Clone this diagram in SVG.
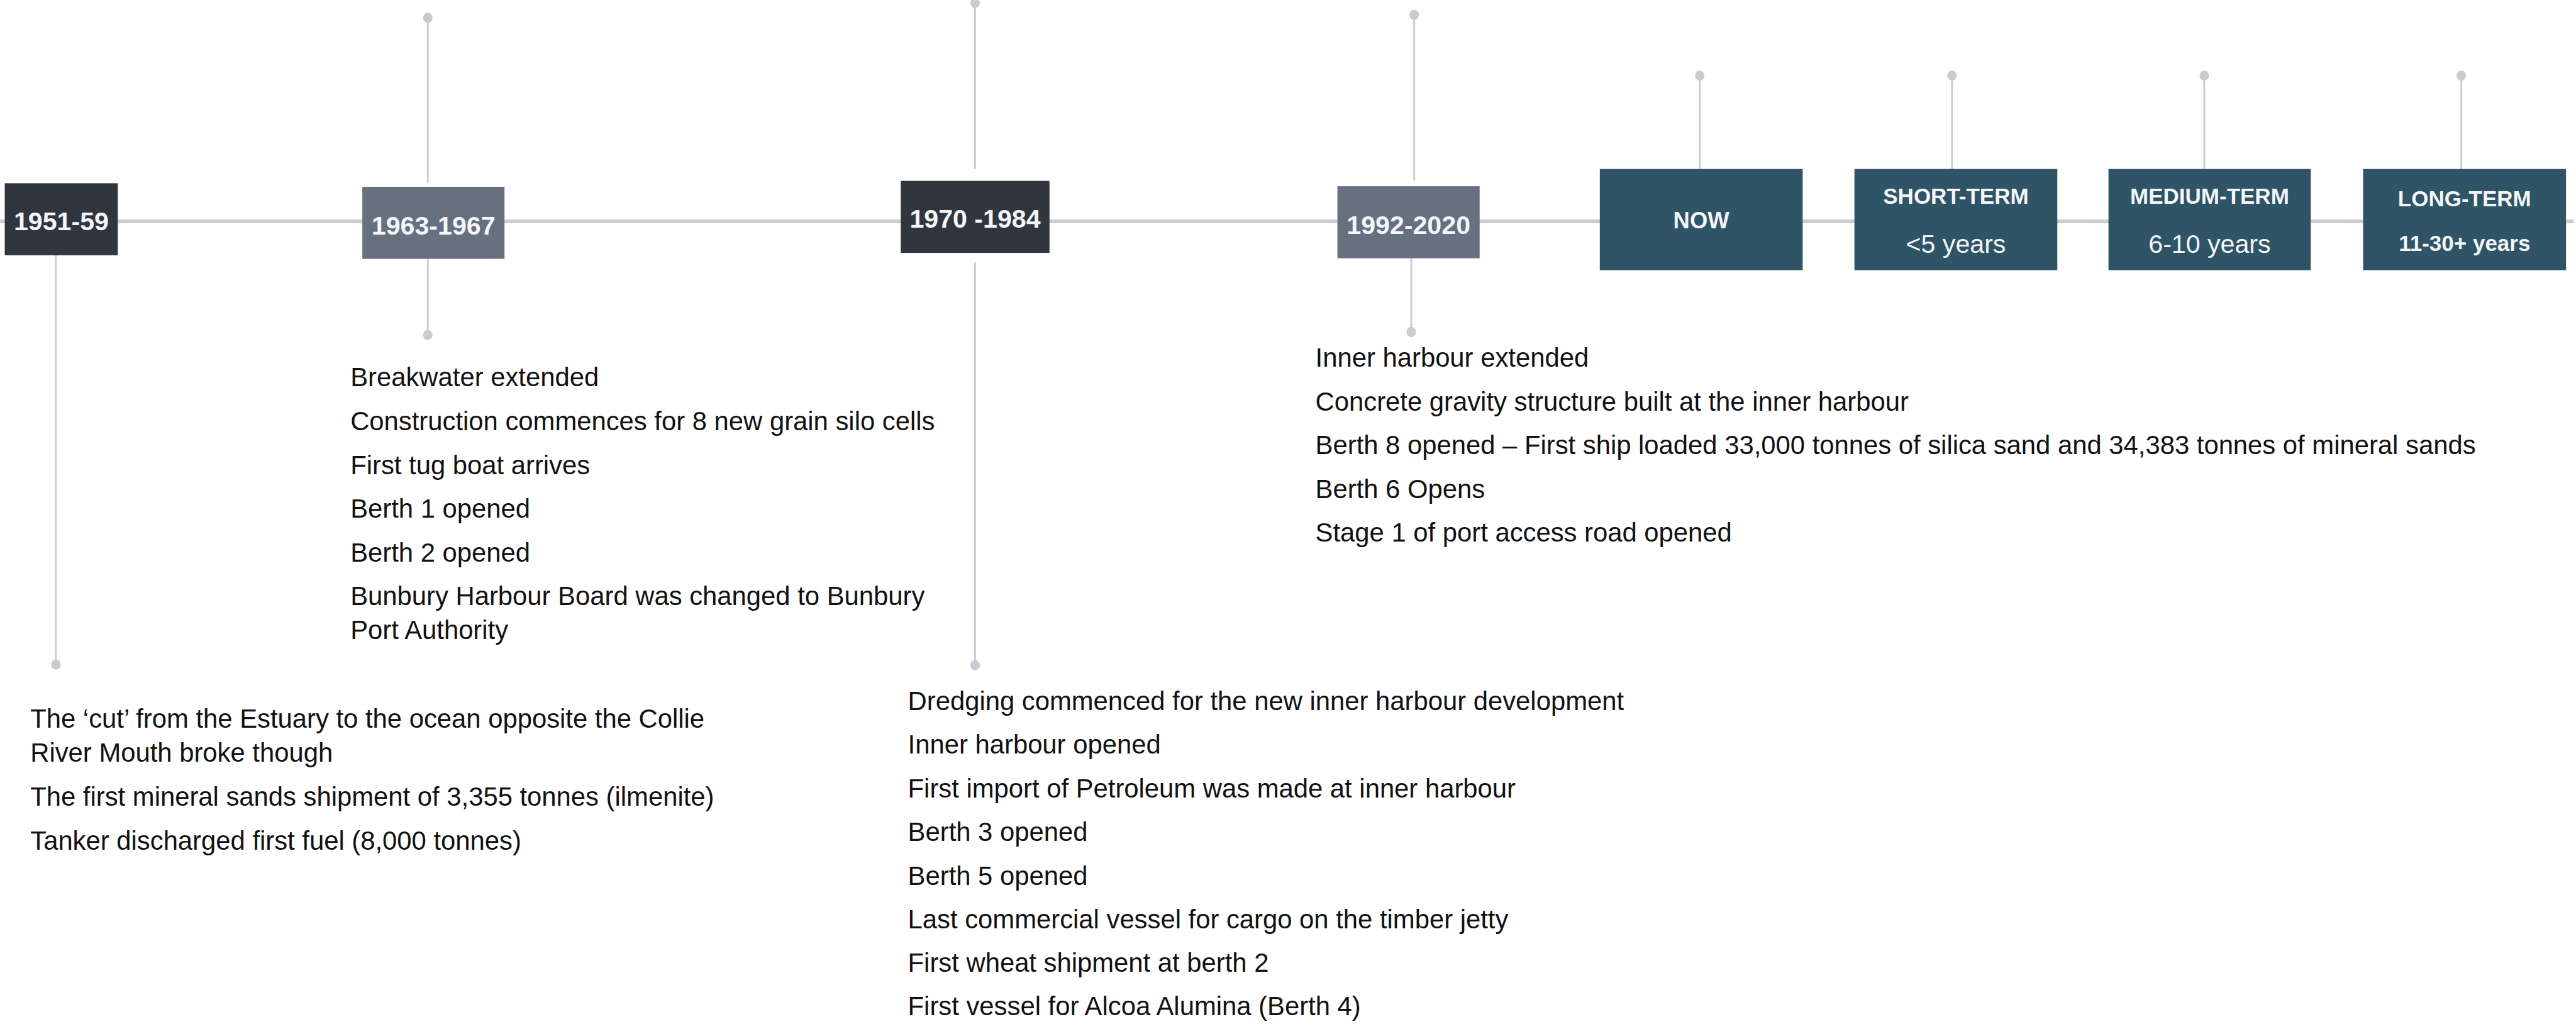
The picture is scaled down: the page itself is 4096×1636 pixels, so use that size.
<svg xmlns="http://www.w3.org/2000/svg" width="4096" height="1636" viewBox="0 0 4096 1636">
<style>
.axis{stroke:#c9cbd1;stroke-width:6;fill:none}
.conn{stroke:#c9cbd1;stroke-width:3;fill:none}
.dot{fill:#c8cbd2}
.dark{fill:#31353e}
.grey{fill:#67707f}
.teal{fill:#2e5466}
.lbl{font-family:"Liberation Sans",Arial,sans-serif;font-weight:bold;fill:#f4f6fb;text-anchor:middle}
.yr{font-size:43.5px}
.hd{font-size:37px}
.sub{font-size:43.5px;font-weight:normal}
.body{font-family:"Liberation Sans",Arial,sans-serif;font-size:44.2px;fill:#111111}
</style>
<rect width="4096" height="1636" fill="#ffffff"/>
<g transform="scale(0.946)">
<g id="connectors">
<line class="axis" x1="0" y1="372" x2="4326" y2="372"/>
<line class="conn" x1="719" y1="30" x2="719" y2="307"/>
<line class="conn" x1="1639" y1="5" x2="1639" y2="284"/>
<line class="conn" x1="2377" y1="25" x2="2377" y2="303"/>
<line class="conn" x1="2857" y1="127" x2="2857" y2="284"/>
<line class="conn" x1="3281" y1="127" x2="3281" y2="284"/>
<line class="conn" x1="3705" y1="127" x2="3705" y2="284"/>
<line class="conn" x1="4137" y1="127" x2="4137" y2="284"/>
<line class="conn" x1="94" y1="424" x2="94" y2="1117"/>
<line class="conn" x1="719" y1="435" x2="719" y2="563"/>
<line class="conn" x1="1639" y1="441" x2="1639" y2="1118"/>
<line class="conn" x1="2372" y1="429" x2="2372" y2="558"/>
<ellipse class="dot" cx="719" cy="30" rx="8" ry="8.5"/>
<ellipse class="dot" cx="1639" cy="5" rx="8" ry="8.5"/>
<ellipse class="dot" cx="2377" cy="25" rx="8" ry="8.5"/>
<ellipse class="dot" cx="2857" cy="127" rx="8" ry="8.5"/>
<ellipse class="dot" cx="3281" cy="127" rx="8" ry="8.5"/>
<ellipse class="dot" cx="3705" cy="127" rx="8" ry="8.5"/>
<ellipse class="dot" cx="4137" cy="127" rx="8" ry="8.5"/>
<ellipse class="dot" cx="94" cy="1117" rx="8" ry="8.5"/>
<ellipse class="dot" cx="719" cy="563" rx="8" ry="8.5"/>
<ellipse class="dot" cx="1639" cy="1118" rx="8" ry="8.5"/>
<ellipse class="dot" cx="2372" cy="558" rx="8" ry="8.5"/>
</g>
<g id="node-1951">
<rect class="dark" x="8" y="308" width="190" height="121"/>
<text class="lbl yr" x="103" y="387">1951-59</text>
</g>
<g id="node-1963">
<rect class="grey" x="609" y="314" width="239" height="121"/>
<text class="lbl yr" x="728.5" y="394">1963-1967</text>
</g>
<g id="node-1970">
<rect class="dark" x="1514" y="304" width="250" height="121"/>
<text class="lbl yr" x="1639" y="383">1970 -1984</text>
</g>
<g id="node-1992">
<rect class="grey" x="2248" y="313" width="239" height="121"/>
<text class="lbl yr" x="2367.5" y="393">1992-2020</text>
</g>
<g id="node-now">
<rect class="teal" x="2689" y="284" width="341" height="170"/>
<text class="lbl hd" x="2859.5" y="384" style="font-size:38.5px">NOW</text>
</g>
<g id="node-short">
<rect class="teal" x="3117" y="284" width="341" height="170"/>
<text class="lbl hd" x="3287.5" y="342">SHORT-TERM</text>
<text class="lbl sub" x="3287.5" y="425">&lt;5 years</text>
</g>
<g id="node-medium">
<rect class="teal" x="3544" y="284" width="340" height="170"/>
<text class="lbl hd" x="3714" y="342">MEDIUM-TERM</text>
<text class="lbl sub" x="3714" y="425">6-10 years</text>
</g>
<g id="node-long">
<rect class="teal" x="3972" y="284" width="341" height="170"/>
<text class="lbl hd" x="4142.5" y="347">LONG-TERM</text>
<text class="lbl hd" x="4142.5" y="422">11-30+ years</text>
</g>
<g id="events-1951">
<text class="body" x="51" y="1223">The ‘cut’ from the Estuary to the ocean opposite the Collie</text>
<text class="body" x="51" y="1280">River Mouth broke though</text>
<text class="body" x="51" y="1354">The first mineral sands shipment of 3,355 tonnes (ilmenite)</text>
<text class="body" x="51" y="1428">Tanker discharged first fuel (8,000 tonnes)</text>
</g>
<g id="events-1963">
<text class="body" x="589" y="649">Breakwater extended</text>
<text class="body" x="589" y="723">Construction commences for 8 new grain silo cells</text>
<text class="body" x="589" y="797">First tug boat arrives</text>
<text class="body" x="589" y="870">Berth 1 opened</text>
<text class="body" x="589" y="944">Berth 2 opened</text>
<text class="body" x="589" y="1017">Bunbury Harbour Board was changed to Bunbury</text>
<text class="body" x="589" y="1074">Port Authority</text>
</g>
<g id="events-1970">
<text class="body" x="1526" y="1193">Dredging commenced for the new inner harbour development</text>
<text class="body" x="1526" y="1266">Inner harbour opened</text>
<text class="body" x="1526" y="1340">First import of Petroleum was made at inner harbour</text>
<text class="body" x="1526" y="1413">Berth 3 opened</text>
<text class="body" x="1526" y="1487">Berth 5 opened</text>
<text class="body" x="1526" y="1560">Last commercial vessel for cargo on the timber jetty</text>
<text class="body" x="1526" y="1633">First wheat shipment at berth 2</text>
<text class="body" x="1526" y="1706">First vessel for Alcoa Alumina (Berth 4)</text>
</g>
<g id="events-1992">
<text class="body" x="2211" y="616">Inner harbour extended</text>
<text class="body" x="2211" y="690">Concrete gravity structure built at the inner harbour</text>
<text class="body" x="2211" y="763">Berth 8 opened – First ship loaded 33,000 tonnes of silica sand and 34,383 tonnes of mineral sands</text>
<text class="body" x="2211" y="837">Berth 6 Opens</text>
<text class="body" x="2211" y="910">Stage 1 of port access road opened</text>
</g>
</g>
</svg>
